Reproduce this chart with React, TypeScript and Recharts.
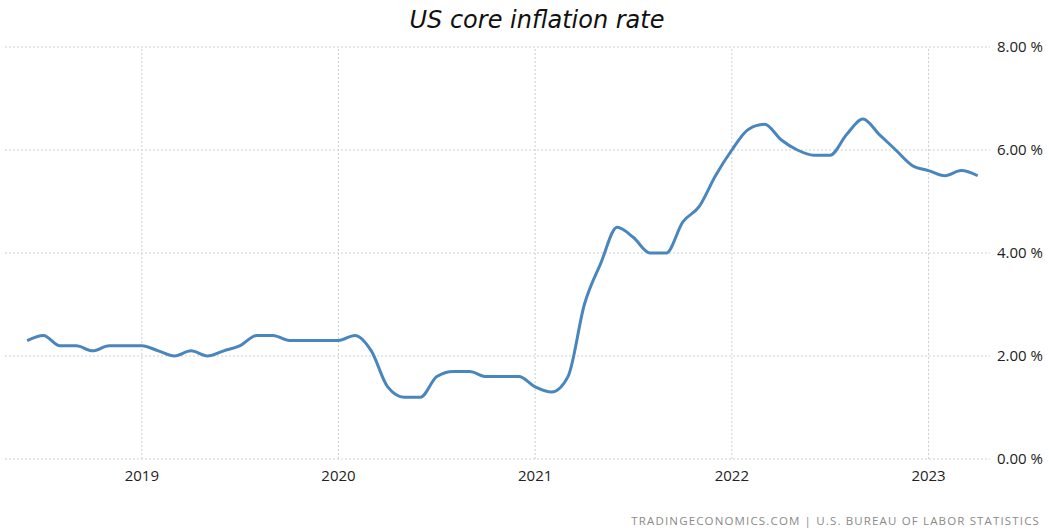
import { CartesianGrid, Line, LineChart, ReferenceLine, XAxis, YAxis } from "recharts";

// monthly core CPI, Jun 2018 .. Apr 2023 (YoY %)
const months = [
  "2018-06", "2018-07", "2018-08", "2018-09", "2018-10", "2018-11", "2018-12",
  "2019-01", "2019-02", "2019-03", "2019-04", "2019-05", "2019-06",
  "2019-07", "2019-08", "2019-09", "2019-10", "2019-11", "2019-12",
  "2020-01", "2020-02", "2020-03", "2020-04", "2020-05", "2020-06",
  "2020-07", "2020-08", "2020-09", "2020-10", "2020-11", "2020-12",
  "2021-01", "2021-02", "2021-03", "2021-04", "2021-05", "2021-06",
  "2021-07", "2021-08", "2021-09", "2021-10", "2021-11", "2021-12",
  "2022-01", "2022-02", "2022-03", "2022-04", "2022-05", "2022-06",
  "2022-07", "2022-08", "2022-09", "2022-10", "2022-11", "2022-12",
  "2023-01", "2023-02", "2023-03", "2023-04",
];

const coreRate = [
  2.3, 2.4, 2.2, 2.2, 2.1, 2.2, 2.2,
  2.2, 2.1, 2.0, 2.1, 2.0, 2.1,
  2.2, 2.4, 2.4, 2.3, 2.3, 2.3,
  2.3, 2.4, 2.1, 1.4, 1.2, 1.2,
  1.6, 1.7, 1.7, 1.6, 1.6, 1.6,
  1.4, 1.3, 1.6, 3.0, 3.8, 4.5,
  4.3, 4.0, 4.0, 4.6, 4.9, 5.5,
  6.0, 6.4, 6.5, 6.2, 6.0, 5.9,
  5.9, 6.3, 6.6, 6.3, 6.0, 5.7,
  5.6, 5.5, 5.6, 5.5,
];

const yearTicks = ["2019", "2020", "2021", "2022", "2023"];
const yTicks = [0, 2, 4, 6, 8];

const data = months.map((m, i) => ({ idx: i, month: m, value: coreRate[i] }));
const tickIdx = yearTicks.map((y) => months.indexOf(y + "-01"));

const labelFont = "'Open Sans', 'Noto Sans', sans-serif";
const gridColor = "#cfcfcf";

export default function App() {
  return (
    <div style={{ position: "absolute", left: 0, top: 0, width: 1049, height: 530, background: "#fff" }}>
      <div
        style={{
          position: "absolute",
          top: 6,
          width: 1074,
          textAlign: "center",
          fontFamily: "'DejaVu Sans', Verdana, sans-serif",
          fontStyle: "italic",
          fontSize: 24,
          color: "#111",
        }}
      >
        US core inflation rate
      </div>
      <LineChart
        width={1049}
        height={530}
        data={data}
        margin={{ top: 47, right: 0, bottom: 41, left: 5 }}
        style={{ position: "absolute", left: 0, top: 0 }}
      >
        <CartesianGrid stroke={gridColor} strokeDasharray="2 2" vertical={false} />
        {tickIdx.map((i) => (
          <ReferenceLine key={i} x={i} stroke={gridColor} strokeDasharray="2 2" />
        ))}
        <XAxis
          dataKey="idx"
          type="number"
          domain={[-1.35, 58.75]}
          ticks={tickIdx}
          tickFormatter={(v: number) => yearTicks[tickIdx.indexOf(v)] ?? ""}
          axisLine={false}
          tickLine={false}
          tickSize={0}
          tickMargin={11}
          height={30}
          tick={{ fill: "#222", fontSize: 15, fontFamily: labelFont }}
        />
        <YAxis
          orientation="right"
          domain={[0, 8]}
          ticks={yTicks}
          tickFormatter={(v: number) => v.toFixed(2) + " %"}
          axisLine={false}
          tickLine={false}
          tickSize={0}
          tickMargin={7}
          width={59}
          tick={{ fill: "#222", fontSize: 15, fontFamily: labelFont, textAnchor: "start" }}
        />
        <Line
          type="monotone"
          dataKey="value"
          stroke="#4a86be"
          strokeWidth={3}
          dot={false}
          isAnimationActive={false}
        />
      </LineChart>
      <div
        style={{
          position: "absolute",
          right: 9,
          top: 513,
          fontFamily: labelFont,
          fontSize: 11.5,
          letterSpacing: 1.15,
          color: "#8a8a8a",
        }}
      >
        TRADINGECONOMICS.COM | U.S. BUREAU OF LABOR STATISTICS
      </div>
    </div>
  );
}
